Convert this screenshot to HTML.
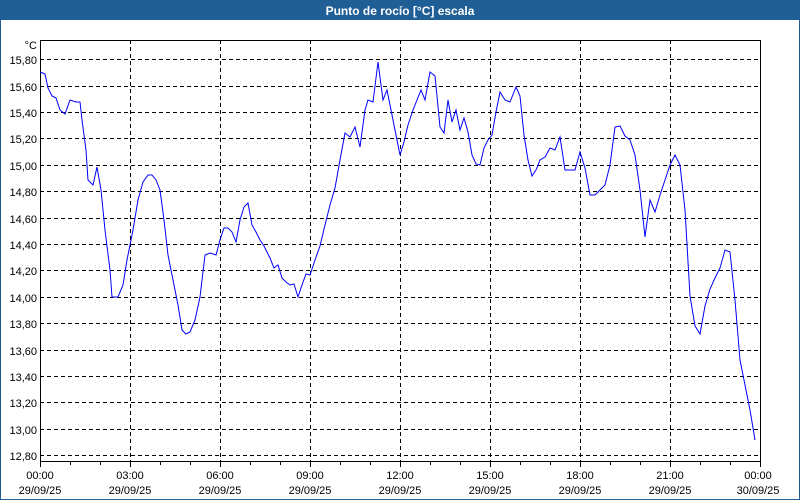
<!DOCTYPE html>
<html><head><meta charset="utf-8"><style>
html,body{margin:0;padding:0;background:#fff}
svg{display:block;font-family:"Liberation Sans","DejaVu Sans",sans-serif}
</style></head><body>
<svg width="800" height="500" viewBox="0 0 800 500">
<rect x="0" y="0" width="800" height="500" fill="#1f5f96"/>
<rect x="1" y="20" width="798" height="479" fill="#fff"/>
<text x="400" y="15" fill="#fff" font-size="12" font-weight="bold" text-anchor="middle">Punto de rocío [°C] escala</text>
<g stroke="#000" stroke-width="1" stroke-dasharray="4,3" fill="none">
<path d="M40 59.5H760M40 86.5H760M40 112.5H760M40 138.5H760M40 165.5H760M40 191.5H760M40 218.5H760M40 244.5H760M40 270.5H760M40 297.5H760M40 323.5H760M40 350.5H760M40 376.5H760M40 402.5H760M40 429.5H760M40 455.5H760"/>
<path d="M130.5 40V461M220.5 40V461M310.5 40V461M400.5 40V461M490.5 40V461M580.5 40V461M670.5 40V461"/>
</g>
<rect x="40.5" y="40.5" width="720" height="421" fill="none" stroke="#000"/>
<g stroke="#000"><path d="M40.5 461v6M70.5 461v4M100.5 461v4M130.5 461v6M160.5 461v4M190.5 461v4M220.5 461v6M250.5 461v4M280.5 461v4M310.5 461v6M340.5 461v4M370.5 461v4M400.5 461v6M430.5 461v4M460.5 461v4M490.5 461v6M520.5 461v4M550.5 461v4M580.5 461v6M610.5 461v4M640.5 461v4M670.5 461v6M700.5 461v4M730.5 461v4M760.5 461v6"/></g>
<g font-size="11" fill="#000" text-anchor="end">
<text x="37" y="49">°C</text>
<text x="37" y="64">15,80</text><text x="37" y="91">15,60</text><text x="37" y="117">15,40</text><text x="37" y="143">15,20</text><text x="37" y="170">15,00</text><text x="37" y="196">14,80</text><text x="37" y="223">14,60</text><text x="37" y="249">14,40</text><text x="37" y="275">14,20</text><text x="37" y="302">14,00</text><text x="37" y="328">13,80</text><text x="37" y="355">13,60</text><text x="37" y="381">13,40</text><text x="37" y="407">13,20</text><text x="37" y="434">13,00</text><text x="37" y="460">12,80</text>
</g>
<g font-size="11" fill="#000" text-anchor="middle">
<text x="40" y="479">00:00</text><text x="40" y="494">29/09/25</text>
<text x="130" y="479">03:00</text><text x="130" y="494">29/09/25</text>
<text x="220" y="479">06:00</text><text x="220" y="494">29/09/25</text>
<text x="310" y="479">09:00</text><text x="310" y="494">29/09/25</text>
<text x="400" y="479">12:00</text><text x="400" y="494">29/09/25</text>
<text x="490" y="479">15:00</text><text x="490" y="494">29/09/25</text>
<text x="580" y="479">18:00</text><text x="580" y="494">29/09/25</text>
<text x="670" y="479">21:00</text><text x="670" y="494">29/09/25</text>
<text x="758" y="479">00:00</text><text x="758" y="494">30/09/25</text>
</g>
<polyline fill="none" stroke="#0000ff" stroke-width="1" points="40,72 45,74 48,88 52,96 56,98 60,110 65,114 70,100 76,102 80,102 82,120 86,150 88,180 93,185 97,167 101,190 105,230 110,270 112,297 118,297 123,285 127,260 133,230 138,200 143,182 148,175 152,175 156,180 160,190 164,220 168,255 173,280 178,305 182,330 186,334 190,332 195,320 200,297 205,255 210,253 216,255 220,240 224,228 228,228 232,232 236,242 240,220 244,207 248,203 252,225 256,232 260,240 264,246 270,258 274,268 278,265 282,278 286,282 290,285 294,284 298,297 302,285 306,274 310,275 315,260 320,246 325,225 330,205 335,188 340,160 345,133 350,137 355,127 360,147 365,110 368,100 373,102 378,62 383,100 387,90 391,110 396,135 400,155 404,142 408,125 413,110 417,100 421,90 425,100 430,72 435,76 440,127 444,133 448,100 452,122 456,110 460,130 464,118 468,132 472,155 476,164 480,165 484,148 488,140 492,135 496,112 500,92 505,100 510,102 516,87 520,96 524,135 528,160 532,176 536,170 540,160 545,157 550,148 555,150 560,137 565,170 570,170 575,170 580,152 585,168 590,195 595,195 600,190 605,185 610,165 615,127 620,126 625,136 630,140 635,155 640,190 645,237 650,200 655,212 660,195 665,180 670,165 675,155 680,165 685,210 690,296 695,326 700,334 705,306 710,289 715,278 720,268 725,250 730,252 735,300 740,360 745,385 750,410 755,440"/>
</svg>
</body></html>
